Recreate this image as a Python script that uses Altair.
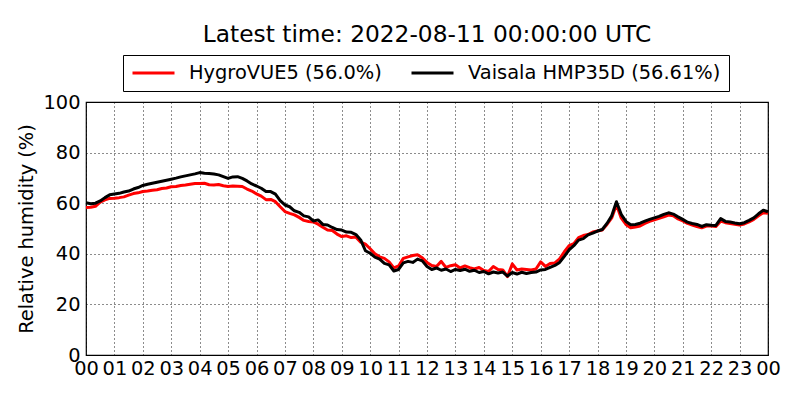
import altair as alt
import pandas as pd

series_names = ["HygroVUE5 (56.0%)", "Vaisala HMP35D (56.61%)"]
series_colors = ["#ff0000", "#000000"]
hour_ticks = list(range(0, 25))
hour_labels = ["00", "01", "02", "03", "04", "05", "06", "07", "08", "09", "10", "11",
               "12", "13", "14", "15", "16", "17", "18", "19", "20", "21", "22", "23", "00"]

# 10-minute readings, 2022-08-10 00:00 to 2022-08-11 00:00 UTC
hygrovue5 = [
    58.3, 58.4, 58.8, 60.4, 61.3, 61.9,
    62.0, 62.2, 62.5, 63.2, 63.8, 64.1,
    64.6, 64.8, 65.1, 65.3, 65.8, 66.0,
    66.5, 66.6, 67.0, 67.2, 67.5, 67.8,
    67.8, 67.9, 67.3, 67.2, 67.4, 66.9,
    66.6, 66.8, 66.7, 66.6, 65.6, 64.8,
    63.7, 62.8, 61.4, 61.5, 60.6, 58.6,
    56.7, 56.0, 55.4, 54.4, 53.2, 52.8,
    52.6, 51.7, 50.5, 49.4, 49.2, 47.8,
    46.8, 47.1, 46.4, 46.6, 44.6, 43.8,
    42.0, 40.0, 38.8, 38.2, 36.8, 34.4,
    35.2, 38.2, 38.8, 39.3, 39.6, 38.4,
    36.6, 35.4, 35.0, 37.0, 34.6, 35.3,
    35.7, 34.4, 35.2, 34.5, 34.0, 34.6,
    33.4, 33.0, 35.0, 33.8, 33.6, 31.0,
    36.0, 33.6, 34.0, 33.8, 33.6, 34.0,
    36.8, 35.0, 36.2, 36.4, 38.0, 40.8,
    43.2, 44.0, 46.4, 47.2, 47.6, 48.6,
    49.0, 49.4, 51.6, 54.2, 59.4, 54.2,
    51.6, 50.3, 50.6, 51.0, 52.0, 52.8,
    53.4, 54.0, 54.6, 55.3, 55.0, 53.8,
    53.0, 52.0, 51.4, 50.8, 50.3, 51.0,
    51.0, 50.8, 52.9, 52.3, 52.0, 51.7,
    51.4, 51.8, 52.6, 53.6, 55.0, 56.2,
    56.0,
]

vaisala = [
    60.2, 59.8, 60.0, 60.9, 62.2, 63.3,
    63.6, 63.9, 64.4, 64.8, 65.6, 66.2,
    67.0, 67.5, 67.9, 68.3, 68.7, 69.1,
    69.5, 69.9, 70.4, 70.8, 71.2, 71.6,
    72.1, 71.8, 71.7, 71.5, 71.2, 70.5,
    69.8, 70.4, 70.5, 69.8, 68.8, 67.6,
    66.8, 65.9, 64.6, 64.6, 63.6, 61.0,
    59.3, 58.6, 57.0, 56.4, 55.0, 54.6,
    53.0, 53.4, 51.6, 51.4, 50.4, 49.6,
    49.4, 48.6, 48.5, 47.6, 45.5, 41.2,
    40.2, 38.7, 37.9, 36.2, 35.6, 33.2,
    33.8, 36.4, 37.0, 36.6, 37.9, 37.2,
    35.0, 33.8, 34.4, 33.5, 34.0, 33.0,
    33.8, 33.4, 33.9, 33.1, 33.5, 32.6,
    33.0, 32.1, 32.8, 32.4, 32.8, 31.2,
    32.6, 32.0, 32.7, 32.2, 32.6, 32.8,
    33.6, 33.8, 34.6, 35.4, 36.6, 39.0,
    41.6, 43.2, 45.4, 46.0, 47.5, 48.2,
    49.0, 49.6, 52.0, 55.0, 60.6, 55.6,
    52.8, 51.5, 51.6, 52.1, 52.9, 53.6,
    54.2, 54.8, 55.6, 56.2, 55.7, 54.6,
    53.6, 52.5, 52.0, 51.6, 50.8, 51.5,
    51.3, 51.2, 53.9, 52.8, 52.6, 52.2,
    51.9, 52.3, 53.2, 54.2, 55.8, 57.2,
    56.6,
]

times = pd.date_range("2022-08-10 00:00", "2022-08-11 00:00", freq="10min")
hours = [(t - times[0]).total_seconds() / 3600.0 for t in times]

rows = []
for name, values in zip(series_names, [hygrovue5, vaisala]):
    for h, v in zip(hours, values):
        rows.append({"hour": h, "rh": v, "series": name})
df = pd.DataFrame(rows)

label_expr = "[" + ",".join("'%s'" % s for s in hour_labels) + "][round(datum.value)]"

FONT = "DejaVu Sans"

chart = (
    alt.Chart(df)
    .mark_line(strokeWidth=3, strokeJoin="round")
    .encode(
        x=alt.X(
            "hour:Q",
            scale=alt.Scale(domain=[0, 24], nice=False, zero=False),
            axis=alt.Axis(
                values=hour_ticks,
                labelExpr=label_expr,
                title=None,
                labelPadding=4,
                labelFlush=False,
                labelOverlap=False,
            ),
        ),
        y=alt.Y(
            "rh:Q",
            scale=alt.Scale(domain=[0, 100], nice=False),
            axis=alt.Axis(
                values=[0, 20, 40, 60, 80, 100],
                title="Relative humidity (%)",
                labelPadding=6,
                titlePadding=6,
            ),
        ),
        color=alt.Color(
            "series:N",
            scale=alt.Scale(domain=series_names, range=series_colors),
            legend=alt.Legend(
                title=None,
                orient="none",
                legendX=37,
                legendY=-47,
                direction="horizontal",
                symbolType="stroke",
                symbolSize=1764,
                symbolStrokeWidth=3,
                clipHeight=20,
                labelFont=FONT,
                labelFontSize=19.4,
                labelColor="black",
                labelOffset=13,
                labelLimit=400,
                columnPadding=28,
                padding=8,
                strokeColor="black",
                fillColor="white",
                cornerRadius=0,
            ),
        ),
    )
    .properties(
        width=682,
        height=253,
        autosize=alt.AutoSizeParams(type="none"),
        padding={"left": 78, "top": 94, "right": 24, "bottom": 30},
        title=alt.TitleParams(
            text="Latest time: 2022-08-11 00:00:00 UTC",
            font=FONT,
            fontSize=23.3,
            fontWeight="normal",
            color="black",
            anchor="middle",
            frame="group",
            offset=7,
        ),
    )
    .configure_view(stroke="black", strokeWidth=1.2)
    .configure_axis(
        grid=True,
        gridColor="black",
        gridDash=[1, 3],
        gridWidth=1,
        gridOpacity=0.9,
        domain=False,
        ticks=False,
        labelFont=FONT,
        labelFontSize=19.4,
        labelColor="black",
        titleFont=FONT,
        titleFontSize=19.4,
        titleFontWeight="normal",
        titleColor="black",
    )
)

chart.save("out.html", embed_options={"renderer": "svg", "actions": False})
